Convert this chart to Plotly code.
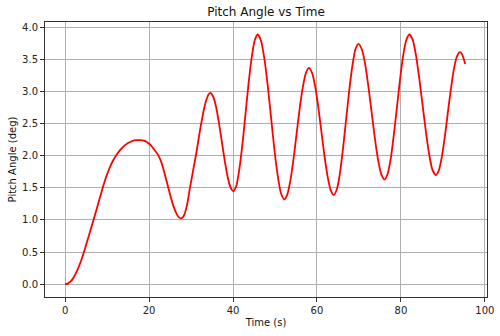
import plotly.graph_objects as go

time_s = [0, 0.5, 1, 1.5, 2, 2.5, 3, 3.5, 4, 4.5, 5, 5.5, 6, 6.5, 7, 7.5, 8, 8.5, 9, 9.5,
          10, 10.5, 11, 11.5, 12, 13, 14, 15, 16, 17, 17.9, 18.8, 19.7, 20.5, 21.3, 22, 22.7,
          23.4, 24, 24.6, 25.2, 25.8, 26.4, 27.0, 27.5, 28.0, 28.5, 29.0, 29.4, 29.8, 30.3,
          30.8, 31.2, 31.7, 32.2, 32.7, 33.2, 33.7, 34.2, 34.6,
          35.29, 35.98, 36.66, 37.35, 38.04, 38.73, 39.41, 40.1,
          40.83, 41.55, 42.28, 43.0, 43.73, 44.45, 45.18, 45.9,
          46.69, 47.48, 48.26, 49.05, 49.84, 50.63, 51.41, 52.2,
          52.94, 53.68, 54.41, 55.15, 55.89, 56.63, 57.36, 58.1,
          58.84, 59.58, 60.31, 61.05, 61.79, 62.53, 63.26, 64.0,
          64.74, 65.48, 66.21, 66.95, 67.69, 68.43, 69.16, 69.9,
          70.68, 71.45, 72.23, 73.0, 73.78, 74.55, 75.33, 76.1,
          76.84, 77.58, 78.31, 79.05, 79.79, 80.53, 81.26, 82.0,
          82.79, 83.58, 84.36, 85.15, 85.94, 86.73, 87.51, 88.3,
          89.01, 89.73, 90.44, 91.15, 91.86, 92.58, 93.29, 94.0,
          94.5, 95.0, 95.3]
pitch_deg = [0.0, 0.005, 0.025, 0.055, 0.1, 0.16, 0.23, 0.31, 0.4, 0.5, 0.61, 0.72, 0.83, 0.94,
             1.05, 1.165, 1.28, 1.395, 1.51, 1.615, 1.71, 1.795, 1.87, 1.935, 1.99, 2.08, 2.15,
             2.2, 2.23, 2.243, 2.245, 2.235, 2.205, 2.16, 2.09, 2.03, 1.94, 1.80, 1.65, 1.5,
             1.35, 1.22, 1.12, 1.05, 1.025, 1.04, 1.10, 1.22, 1.36, 1.52, 1.70, 1.88, 2.02,
             2.22, 2.42, 2.60, 2.76, 2.88, 2.96, 2.98,
             2.92, 2.76, 2.51, 2.215, 1.92, 1.67, 1.51, 1.45,
             1.54, 1.81, 2.20, 2.67, 3.14, 3.53, 3.80, 3.89,
             3.79, 3.51, 3.10, 2.605, 2.11, 1.70, 1.42, 1.32,
             1.40, 1.62, 1.95, 2.345, 2.74, 3.07, 3.29, 3.37,
             3.29, 3.08, 2.76, 2.38, 2.00, 1.68, 1.47, 1.39,
             1.48, 1.73, 2.12, 2.57, 3.02, 3.40, 3.66, 3.745,
             3.66, 3.44, 3.09, 2.69, 2.28, 1.94, 1.71, 1.63,
             1.72, 1.96, 2.33, 2.76, 3.19, 3.56, 3.80, 3.89,
             3.81, 3.57, 3.21, 2.795, 2.38, 2.02, 1.78, 1.70,
             1.77, 1.98, 2.29, 2.66, 3.02, 3.34, 3.54, 3.615,
             3.59, 3.50, 3.43]

x_ticks = [0, 20, 40, 60, 80, 100]
y_ticks = [0.0, 0.5, 1.0, 1.5, 2.0, 2.5, 3.0, 3.5, 4.0]

fig = go.Figure()
fig.add_trace(go.Scatter(x=time_s, y=pitch_deg, mode="lines",
                         line=dict(color="red", width=1.8, shape="spline", smoothing=0.6)))

axis_common = dict(showline=True, linecolor="#333333", linewidth=1, mirror=True,
                   ticks="outside", ticklen=4, tickcolor="#333333", automargin=False,
                   showgrid=True, gridcolor="#b0b0b0", gridwidth=1, zeroline=False,
                   tickfont=dict(family="DejaVu Sans", size=10, color="#222222"))

fig.update_layout(
    width=500, height=336,
    margin=dict(l=45, r=13, t=22, b=39),
    paper_bgcolor="white", plot_bgcolor="white",
    showlegend=False,
    title=dict(text="Pitch Angle vs Time", x=0.532, xanchor="center", y=0.965, yanchor="middle",
               font=dict(family="DejaVu Sans", size=12, color="#111111")),
    xaxis=dict(range=[-4.78, 100.5], tickvals=x_ticks, ticktext=[str(v) for v in x_ticks],
               title=dict(text="Time (s)", font=dict(family="DejaVu Sans", size=10, color="#111111"), standoff=3),
               **axis_common),
    yaxis=dict(range=[-0.2, 4.085], tickvals=y_ticks, ticktext=[f"{v:.1f}" for v in y_ticks],
               title=dict(text="Pitch Angle (deg)", font=dict(family="DejaVu Sans", size=10, color="#111111"), standoff=3),
               **axis_common),
)

fig.write_html("out.html")
